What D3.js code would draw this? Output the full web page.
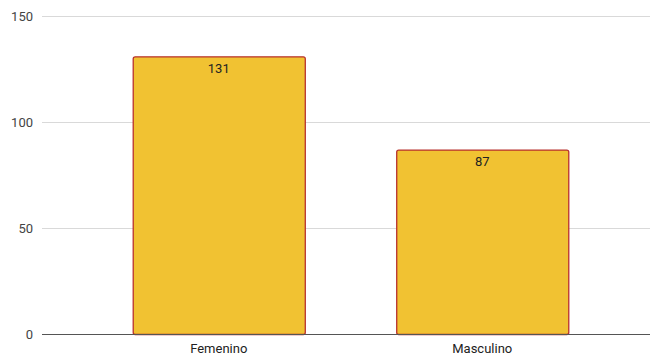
<!DOCTYPE html>
<html><head><meta charset="utf-8">
<script src="https://cdn.jsdelivr.net/npm/d3@7"></script>
<style>body{margin:0;background:#fff}svg{display:block}text{font-family:Roboto,Arial,sans-serif}</style>
</head><body><svg id="c" width="650" height="360"></svg>
<script>
const categories = ["Femenino", "Masculino"];
const values = [131, 87];
const yTicks = [0, 50, 100, 150];

const svg = d3.select("#c");
const x = d3.scaleBand().domain(categories).range([87, 614]).paddingInner(0.347).paddingOuter(0.1735);
const y = d3.scaleLinear().domain([0, 150]).range([334, 16]);

// gridlines
svg.append("g").selectAll("line").data(yTicks.filter(d => d > 0)).join("line")
  .attr("x1", 42).attr("x2", 650)
  .attr("y1", d => Math.round(y(d)) + 0.5).attr("y2", d => Math.round(y(d)) + 0.5)
  .attr("stroke", "#d9d9d9").attr("stroke-width", 1);

// y labels
svg.append("g").selectAll("text").data(yTicks).join("text")
  .attr("x", 33).attr("y", d => y(d)).attr("dy", "0.35em")
  .attr("text-anchor", "end").attr("font-size", 13).attr("fill", "#444")
  .text(d => d);

// bars
svg.append("g").selectAll("rect").data(values).join("rect")
  .attr("x", (d, i) => x(categories[i]) + 0.5)
  .attr("y", d => y(d) + 0.5)
  .attr("width", x.bandwidth())
  .attr("height", d => y(0) - y(d))
  .attr("rx", 2).attr("ry", 2)
  .attr("fill", "#f1c232").attr("stroke", "#b8312c").attr("stroke-width", 1.3);

// baseline
svg.append("line").attr("x1", 42).attr("x2", 650)
  .attr("y1", y(0) + 0.5).attr("y2", y(0) + 0.5)
  .attr("stroke", "#555").attr("stroke-width", 1);

// value labels
svg.append("g").selectAll("text").data(values).join("text")
  .attr("x", (d, i) => x(categories[i]) + x.bandwidth() / 2)
  .attr("y", d => y(d) + 12).attr("dy", "0.35em")
  .attr("text-anchor", "middle").attr("font-size", 13).attr("fill", "#222")
  .text(d => d);

// category labels
svg.append("g").selectAll("text").data(categories).join("text")
  .attr("x", d => x(d) + x.bandwidth() / 2)
  .attr("y", 348).attr("dy", "0.35em")
  .attr("text-anchor", "middle").attr("font-size", 13).attr("fill", "#222")
  .text(d => d);
</script></body></html>
